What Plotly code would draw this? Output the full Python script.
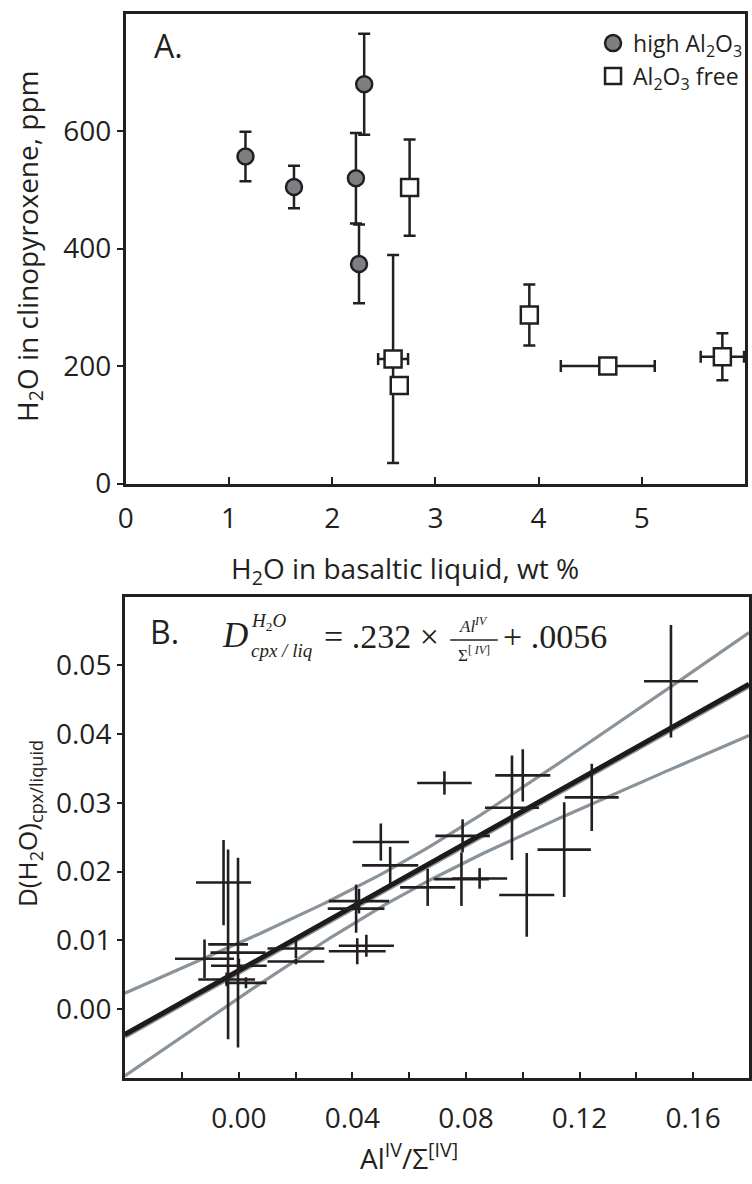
import numpy as np
import plotly.graph_objects as go

# ---- panel A: H2O in cpx vs H2O in liquid ----
hi_x = [1.16, 1.63, 2.23, 2.31, 2.26]
hi_y = [557, 505, 520, 680, 374]
hi_yerr = [42, 36, 77, 86, 67]

free_x = [2.75, 2.59, 2.65, 3.91, 4.67, 5.78]
free_y = [504, 212, 167, 287, 200, 216]
free_xerr = [0, 0.145, 0, 0, 0.455, 0.21]
free_yerr = [82, 177, 0, 52, 0, 40]

a_xticks = [0, 1, 2, 3, 4, 5]
a_yticks = [0, 200, 400, 600]

# ---- panel B: D(H2O) vs Al(IV) ----
b_x = [-0.0054, -0.0038, -0.0003, -0.0121, 0.0000, -0.0043, 0.0025, 0.0201, 0.0201,
       0.0724, 0.0500, 0.0533, 0.0423, 0.0413, 0.0449, 0.0417, 0.0665, 0.0788,
       0.0784, 0.0848, 0.1014, 0.1522, 0.1000, 0.0962, 0.1243, 0.1146]
b_y = [0.0184, 0.0094, 0.0082, 0.0073, 0.0063, 0.0043, 0.0038, 0.0088, 0.0069,
       0.0329, 0.0243, 0.0209, 0.0157, 0.0146, 0.0092, 0.0084, 0.0177, 0.0252,
       0.0189, 0.0190, 0.0166, 0.0477, 0.0340, 0.0293, 0.0308, 0.0232]
b_xerr = [0.0097, 0.0070, 0.0097, 0.0104, 0.0098, 0.0100, 0.0073, 0.0100, 0.0100,
          0.0096, 0.0099, 0.0099, 0.0106, 0.0100, 0.0097, 0.0100, 0.0097, 0.0096,
          0.0097, 0.0097, 0.0097, 0.0095, 0.0097, 0.0095, 0.0095, 0.0094]
b_yerr = [0.0062, 0.0138, 0.0138, 0.0028, 0.0010, 0.0010, 0.0008, 0.0014, 0.0004,
          0.0017, 0.0027, 0.0027, 0.0018, 0.0035, 0.0016, 0.0019, 0.0027, 0.0024,
          0.0039, 0.0015, 0.0061, 0.0082, 0.0038, 0.0076, 0.0049, 0.0069]

# regression shown in the figure and its confidence band
slope = 0.232
intercept = 0.0056
band_xc = 0.056
band_w0 = 0.00236
band_k = 0.0575

b_xrange = [-0.0402, 0.1797]
b_yrange = [-0.0101, 0.0600]
b_xticks = [0.0, 0.04, 0.08, 0.12, 0.16]
b_yticks = [0.0, 0.01, 0.02, 0.03, 0.04, 0.05]

INK = '#231f20'
GREY = '#8a9399'
SANS = 'Open Sans, Noto Sans, sans-serif'
SERIF = 'Liberation Serif, Times New Roman, serif'
W, H = 752, 1184


def px(x):
    return x / W


def py(y):
    return 1 - y / H


fig = go.Figure()

fig.add_trace(go.Scatter(
    x=hi_x, y=hi_y, mode='markers', name='high Al<sub>2</sub>O<sub>3</sub>',
    marker=dict(symbol='circle', size=16, color='#7d7f82',
                line=dict(color=INK, width=2.5)),
    error_y=dict(type='data', array=hi_yerr, color=INK, thickness=2.5, width=6),
    xaxis='x', yaxis='y'))

fig.add_trace(go.Scatter(
    x=free_x, y=free_y, mode='markers', name='Al<sub>2</sub>O<sub>3</sub> free',
    marker=dict(symbol='square', size=17, color='white',
                line=dict(color=INK, width=2.5)),
    error_x=dict(type='data', array=free_xerr, color=INK, thickness=2.5, width=6),
    error_y=dict(type='data', array=free_yerr, color=INK, thickness=2.5, width=6),
    xaxis='x', yaxis='y'))

# band and fit line
xs = np.linspace(b_xrange[0], b_xrange[1], 80)
fit = slope * xs + intercept
half = np.sqrt(band_w0 ** 2 + band_k ** 2 * (xs - band_xc) ** 2)
for yy in (fit + half, fit - half):
    fig.add_trace(go.Scatter(x=xs, y=yy, mode='lines', showlegend=False,
                             line=dict(color=GREY, width=3.2),
                             hoverinfo='skip', xaxis='x2', yaxis='y2'))
# grey edge under the fit line, as in the printed figure
fig.add_trace(go.Scatter(x=xs, y=fit - 0.00025, mode='lines', showlegend=False,
                         line=dict(color=GREY, width=5),
                         hoverinfo='skip', xaxis='x2', yaxis='y2'))
fig.add_trace(go.Scatter(x=xs, y=fit, mode='lines', showlegend=False,
                         line=dict(color='#1c1a1b', width=5),
                         hoverinfo='skip', xaxis='x2', yaxis='y2'))

fig.add_trace(go.Scatter(
    x=b_x, y=b_y, mode='none', showlegend=False,
    error_x=dict(type='data', array=b_xerr, color=INK, thickness=2.6, width=0),
    error_y=dict(type='data', array=b_yerr, color=INK, thickness=2.6, width=0),
    xaxis='x2', yaxis='y2'))

axis_common = dict(showline=True, mirror=True, linecolor=INK, linewidth=2.5,
                   showgrid=False, zeroline=False, tickcolor=INK, tickwidth=2,
                   tickfont=dict(family=SANS, size=28, color=INK))

fig.update_layout(
    width=W, height=H,
    margin=dict(l=0, r=0, t=0, b=0),
    paper_bgcolor='white', plot_bgcolor='white',
    xaxis=dict(domain=[px(119), px(745)], range=[0, 6.0], tickvals=a_xticks,
               ticks='inside', ticklen=7, ticklabelstandoff=8, anchor='y', **axis_common),
    yaxis=dict(domain=[py(491), py(14)], range=[0, 800], tickvals=a_yticks,
               ticks='outside', ticklen=6, anchor='x', **axis_common),
    xaxis2=dict(domain=[px(118), px(749)], range=b_xrange, tickvals=b_xticks,
                tickformat='.2f', ticks='inside', ticklen=7,
                minor=dict(tick0=0, dtick=0.02, ticks='inside', ticklen=7,
                           tickwidth=2, tickcolor=INK),
                ticklabelstandoff=13, anchor='y2', **axis_common),
    yaxis2=dict(domain=[py(1095), py(606)], range=b_yrange, tickvals=b_yticks,
                tickformat='.2f', ticks='outside', ticklen=5, anchor='x2',
                **axis_common),
    legend=dict(x=px(748), y=py(22), xanchor='right', yanchor='top',
                bgcolor='rgba(0,0,0,0)', itemwidth=30,
                font=dict(family=SANS, size=23, color=INK)),
)

ann = []


def label(text, x, y, size, family=SANS, xanchor='center', angle=0):
    ann.append(dict(text=text, x=px(x), y=py(y), xref='paper', yref='paper',
                    xanchor=xanchor, yanchor='middle', showarrow=False,
                    textangle=angle,
                    font=dict(family=family, size=size, color=INK)))


# panel letters and axis titles
label('A.', 146, 46, 32, xanchor='left')
label('B.', 142, 641, 32, xanchor='left')
label('H<sub>2</sub>O in clinopyroxene, ppm', 21, 250, 28, angle=-90)
label('H<sub>2</sub>O in basaltic liquid, wt %', 401, 579, 28)
label('D(H<sub>2</sub>O)<sub>cpx/liquid</sub>', 21, 836, 26, angle=-90)
label('Al<sup>IV</sup>/Σ<sup>[IV]</sup>', 405, 1174, 28)

# regression equation
label('<i>D</i>', 214, 645, 35, family=SERIF, xanchor='left')
label('<i>H</i><sub>2</sub><i>O</i>', 244, 632, 19, family=SERIF, xanchor='left')
label('<i>cpx / liq</i>', 244, 661, 19, family=SERIF, xanchor='left')
label('= .232 ×', 317, 646, 34, family=SERIF, xanchor='left')
label('<i>Al</i><sup><i>IV</i></sup>', 471, 635, 17, family=SERIF)
label('Σ<sup>[ <i>IV</i>]</sup>', 471, 664, 17, family=SERIF)
label('+ .0056', 498, 646, 34, family=SERIF, xanchor='left')

fig.update_layout(annotations=ann)
fig.add_shape(type='line', xref='paper', yref='paper',
              x0=px(447), x1=px(495), y0=py(650), y1=py(650),
              line=dict(color=INK, width=1.5))

# drop the default page margin so the figure sits at the window origin
fig.write_html("out.html", config={'displayModeBar': False},
               post_script="document.body.style.margin='0';")
